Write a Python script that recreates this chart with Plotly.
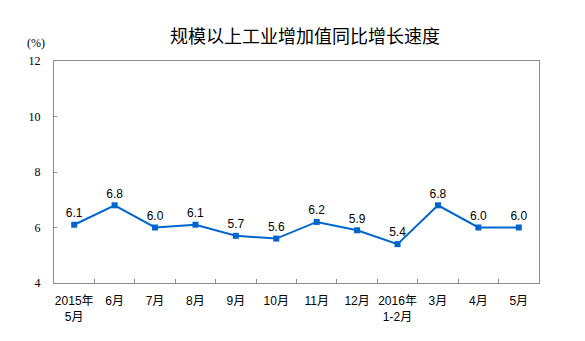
import plotly.graph_objects as go

categories = ["2015年<br>5月", "6月", "7月", "8月", "9月", "10月", "11月", "12月",
              "2016年<br>1-2月", "3月", "4月", "5月"]
values = [6.1, 6.8, 6.0, 6.1, 5.7, 5.6, 6.2, 5.9, 5.4, 6.8, 6.0, 6.0]
y_ticks = [4, 6, 8, 10, 12]

blue = "#0066CC"
grey = "#8C8C8C"

fig = go.Figure()
fig.add_trace(go.Scatter(
    x=categories, y=values,
    mode="lines+markers+text",
    line=dict(color=blue, width=2),
    marker=dict(symbol="square", size=6, color=blue),
    text=[f"{v:.1f}" for v in values],
    textposition="top center",
    textfont=dict(family="Liberation Sans, Arial, sans-serif", size=12, color="#000000"),
    cliponaxis=False,
    hoverinfo="skip",
))

fig.update_layout(
    width=585, height=341,
    margin=dict(l=54, r=46, t=61, b=58),
    paper_bgcolor="white", plot_bgcolor="white",
    showlegend=False,
    title=dict(
        text="规模以上工业增加值同比增长速度",
        font=dict(family="Noto Sans CJK SC", size=18, color="#000000"),
        x=305 / 585, xanchor="center", xref="container",
        y=1 - 37 / 341, yanchor="middle", yref="container",
    ),
    xaxis=dict(
        type="category",
        showline=True, linecolor=grey, linewidth=1, mirror=True,
        showgrid=False, zeroline=False,
        ticks="inside", ticklen=4, tickcolor=grey, tickson="boundaries",
        tickangle=0, ticklabelstandoff=7,
        tickfont=dict(family="Liberation Sans, Noto Sans CJK SC, sans-serif", size=12, color="#000000"),
        range=[-0.5, 11.5],
    ),
    yaxis=dict(
        range=[4, 12], tickvals=y_ticks,
        showline=True, linecolor=grey, linewidth=1, mirror=True,
        showgrid=False, zeroline=False,
        ticks="inside", ticklen=3, tickcolor=grey,
        ticklabelstandoff=10,
        tickfont=dict(family="Liberation Serif, Times New Roman, serif", size=12, color="#000000"),
    ),
)

fig.add_annotation(
    text="(%)", xref="paper", yref="paper",
    x=-18 / 485, y=1 + 18 / 222, xanchor="center", yanchor="middle",
    showarrow=False,
    font=dict(family="Liberation Serif, Times New Roman, serif", size=12, color="#000000"),
)

fig.write_html("out.html")
